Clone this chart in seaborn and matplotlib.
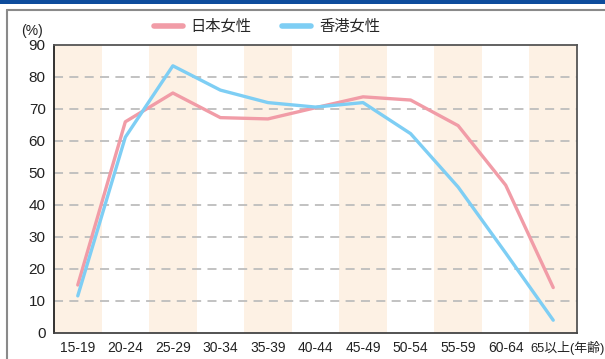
import matplotlib
matplotlib.use("Agg")
import matplotlib.pyplot as plt
import matplotlib.transforms as mtransforms
from matplotlib.lines import Line2D
from matplotlib.patches import Rectangle
import seaborn as sns
import pandas as pd

# Labour force participation rate by age group (%)
age_groups = ["15-19", "20-24", "25-29", "30-34", "35-39", "40-44",
              "45-49", "50-54", "55-59", "60-64", "65以上"]
japan_women = [15.0, 66.0, 75.0, 67.3, 66.9, 70.4, 73.8, 72.8, 64.8, 46.2, 14.2]
hongkong_women = [11.6, 61.2, 83.5, 75.9, 72.0, 70.6, 72.0, 62.3, 45.6, 25.0, 4.0]
series_names = ["日本女性", "香港女性"]
y_ticks = [0, 10, 20, 30, 40, 50, 60, 70, 80, 90]
x_unit = "(年齢)"

sns.set_theme(style="white")
plt.rcParams["font.family"] = ["Liberation Sans", "Noto Sans CJK JP", "DejaVu Sans"]

df = pd.DataFrame({
    "age": age_groups * 2,
    "rate": japan_women + hongkong_women,
    "who": [series_names[0]] * len(age_groups) + [series_names[1]] * len(age_groups),
})

colors = {"日本女性": "#F19CA7", "香港女性": "#7ECEF4"}

fig = plt.figure(figsize=(6.05, 3.59), dpi=100, facecolor="white")
ax = fig.add_axes([54 / 605, 1 - 333 / 359, 523 / 605, 288 / 359])

n = len(age_groups)
# alternating shaded bands
for i in range(0, n, 2):
    ax.axvspan(i - 0.5, i + 0.5, color="#FDF1E4", lw=0, zorder=0)

# dashed horizontal grid
for v in y_ticks[1:-1]:
    ax.axhline(v, color="#BDBDBD", lw=1.3, ls=(0, (5, 3.5)), zorder=1)

sns.lineplot(data=df, x="age", y="rate", hue="who", palette=colors,
             lw=2.4, ax=ax, legend=False, zorder=3, sort=False)

ax.set_xlim(-0.5, n - 0.5)
ax.set_ylim(0, 90)
ax.set_yticks(y_ticks)
ax.set_yticklabels([str(t) for t in y_ticks], fontsize=11, color="#222222")
ax.set_xticks(range(n))
ax.set_xticklabels(age_groups[:-1] + [age_groups[-1] + x_unit], fontsize=10, color="#222222")
ax.set_xticks([i + 0.5 for i in range(n - 1)], minor=True)
ax.tick_params(axis="x", which="major", length=0, pad=6)
ax.tick_params(axis="x", which="minor", direction="in", length=3, color="#555555", width=1)
ax.tick_params(axis="y", length=0, pad=6)
ax.set_xlabel("")
ax.set_ylabel("")

# last label carries the axis unit and starts just left of its group centre
last = ax.get_xticklabels()[-1]
last.set_fontsize(9.3)
last.set_horizontalalignment("left")
last.set_transform(last.get_transform() +
                   mtransforms.ScaledTranslation(-0.225, 0, fig.dpi_scale_trans))

for s in ax.spines.values():
    s.set_color("#555555")
    s.set_linewidth(1.3)
ax.spines["left"].set_color("#222222")
ax.spines["bottom"].set_color("#444444")

fig.text(32 / 605, 1 - 31 / 359, "(%)", fontsize=10, ha="center", va="center", color="#222222")

handles = [Line2D([0], [0], color=colors[s], lw=4) for s in series_names]
fig.legend(handles, series_names, loc="center", ncol=2, frameon=False,
           bbox_to_anchor=(267 / 605, 1 - 27 / 359), fontsize=11,
           handlelength=1.9, handletextpad=0.5, columnspacing=2.0)

# page decoration: top band and panel frame
fig.add_artist(Rectangle((0, 1 - 4 / 359), 1, 4 / 359, transform=fig.transFigure,
                         color="#0D4C9C", lw=0))
fig.add_artist(Line2D([7 / 605, 7 / 605], [0, 1 - 10 / 359], transform=fig.transFigure,
                      color="#8A8A8A", lw=1.5))
fig.add_artist(Line2D([7 / 605, 1], [1 - 10 / 359, 1 - 10 / 359], transform=fig.transFigure,
                      color="#8A8A8A", lw=1.5))

fig.savefig("out.png", dpi=100, facecolor="white")
